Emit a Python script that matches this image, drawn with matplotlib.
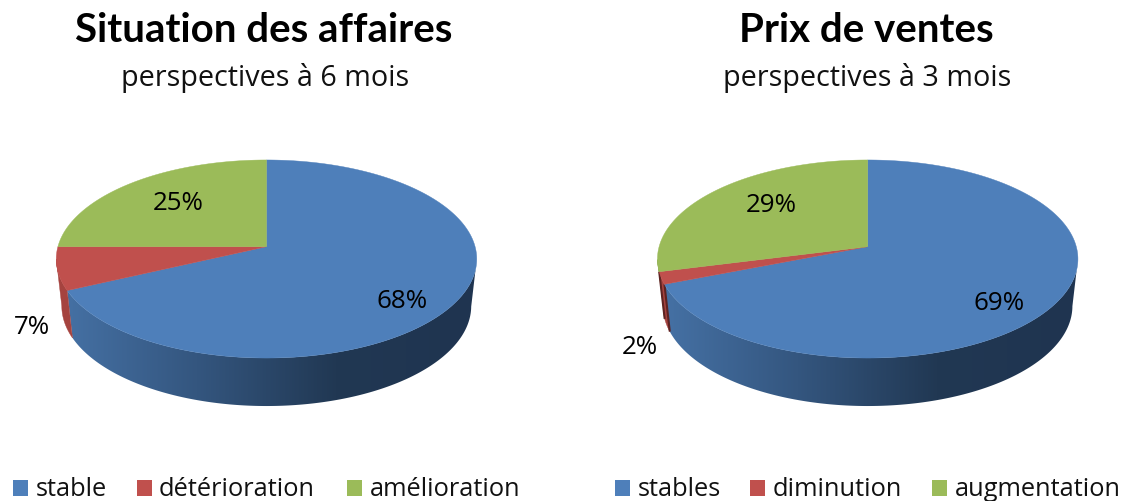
#!/usr/bin/env python3
# -*- coding: utf-8 -*-
"""
Two perspective pies with a side wall, drawn in pixel coordinates.
"""

import numpy as np
import matplotlib
matplotlib.use("Agg")
import matplotlib.pyplot as plt
from matplotlib.colors import LinearSegmentedColormap
from matplotlib.patches import Polygon, Rectangle


# =============================================================================
# Data

titles = ["Situation des affaires", "Prix de ventes"]
subtitles = ["perspectives à 6 mois", "perspectives à 3 mois"]
labels_left = ["stable", "détérioration", "amélioration"]
labels_right = ["stables", "diminution", "augmentation"]
values_left = [68, 7, 25]
values_right = [69, 2, 29]

colors = ["#4e7fba", "#c0504d", "#9bbb59"]
wall_colors = [None, "#a5433f", "#86a24b"]
wall_cmap = LinearSegmentedColormap.from_list("wall", ["#4672a6", "#34567f", "#213853", "#1f3450"])


# =============================================================================
# Functions

W, H = 1126, 501
APEX_Y = 246.7
K = 0.1242      # perspective strength of the top face
A = 97.5
B = 208.6
TOP_CY, TOP_RX, TOP_RY = 259.0, 209.5, 99.0
BOT_CY, BOT_RX, BOT_RY = 306.0, 204.0, 100.0


def rim(cx, theta):
    # point on the top rim, theta clockwise from 12 o'clock (radians)
    s, c = np.sin(theta), np.cos(theta)
    return cx + B * s / (1 + K * c), APEX_Y - A * c / (1 + K * c)


def draw_pie(ax, cx, values, sliver_lw):
    edges = np.cumsum([0] + values) / np.sum(values) * 2 * np.pi

    # side walls first, the top face covers what is left over
    for i, v in enumerate(values):
        theta = np.linspace(edges[i], edges[i + 1], 300)
        x, y = rim(cx, theta)
        u = (x - cx) / TOP_RX
        w = (y - TOP_CY) / TOP_RY
        keep = w >= 0
        if keep.sum() < 2:
            continue
        x_top, y_top = x[keep], y[keep]
        x_bot = cx + u[keep] * BOT_RX
        y_bot = BOT_CY + w[keep] * BOT_RY
        pts = np.column_stack([np.r_[x_top, x_bot[::-1]], np.r_[y_top, y_bot[::-1]]])
        if wall_colors[i] is None:
            poly = Polygon(pts, closed=True, facecolor="none", edgecolor="none")
            ax.add_patch(poly)
            im = ax.imshow(np.linspace(0, 1, 256)[None, :], cmap=wall_cmap, aspect="auto",
                           extent=(cx - TOP_RX, cx + TOP_RX, 420, 240), zorder=1)
            im.set_clip_path(poly)
        else:
            ax.add_patch(Polygon(pts, closed=True, facecolor=wall_colors[i],
                                 edgecolor=wall_colors[i], linewidth=0.3, zorder=1.1))
            if sliver_lw > 0:
                ax.plot([x_top[0], x_bot[0]], [y_top[0], y_bot[0]], color="#5e2322",
                        lw=sliver_lw, solid_capstyle="butt", zorder=1.2)

    # top face
    for i, v in enumerate(values):
        theta = np.linspace(edges[i], edges[i + 1], 300)
        x, y = rim(cx, theta)
        pts = np.column_stack([np.r_[cx, x], np.r_[APEX_Y, y]])
        ax.add_patch(Polygon(pts, closed=True, facecolor=colors[i], edgecolor=colors[i],
                             linewidth=0.3, zorder=2))


def draw_legend(ax, labels, swatch_x, text_x):
    for i, lab in enumerate(labels):
        ax.add_patch(Rectangle((swatch_x[i], 480), 15, 16, facecolor=colors[i], edgecolor="none"))
        ax.text(text_x[i], 496.5, lab, fontsize=LEGEND_FS, family=BODY_FONT, color="#111111", ha="left", va="baseline")


# =============================================================================
# Code

TITLE_FONT = "Lato"
BODY_FONT = "Open Sans"
TITLE_FS = 29
SUB_FS = 20.7
LABEL_FS = 18.7
LEGEND_FS = 18.3

fig = plt.figure(figsize=(W / 100, H / 100), dpi=100)
ax = fig.add_axes([0, 0, 1, 1])

draw_pie(ax, 266.5, values_left, 0)
draw_pie(ax, 867.7, values_right, 1.5)

for cx, t, s in zip([264, 866], titles, subtitles):
    ax.text(cx, 42, t, fontsize=TITLE_FS, family=TITLE_FONT, fontweight="bold", color="black", ha="center", va="baseline")
    ax.text(cx + 1.5, 86, s, fontsize=SUB_FS, family=BODY_FONT, color="#111111", ha="center", va="baseline")

for (x, y), v in zip([(402, 301), (32, 327), (178, 203)], values_left):
    ax.text(x, y, "{}%".format(v), fontsize=LABEL_FS, family=BODY_FONT, color="black", ha="center", va="center")
for (x, y), v in zip([(999.5, 303), (640, 347), (771, 206)], values_right):
    ax.text(x, y, "{}%".format(v), fontsize=LABEL_FS, family=BODY_FONT, color="black", ha="center", va="center")

draw_legend(ax, labels_left, [13, 137, 347], [36, 159, 370])
draw_legend(ax, labels_right, [615, 750, 932], [638, 773, 955])

ax.set_xlim(0, W)
ax.set_ylim(H, 0)
ax.axis("off")

fig.savefig("out.png", dpi=100, facecolor="white")
